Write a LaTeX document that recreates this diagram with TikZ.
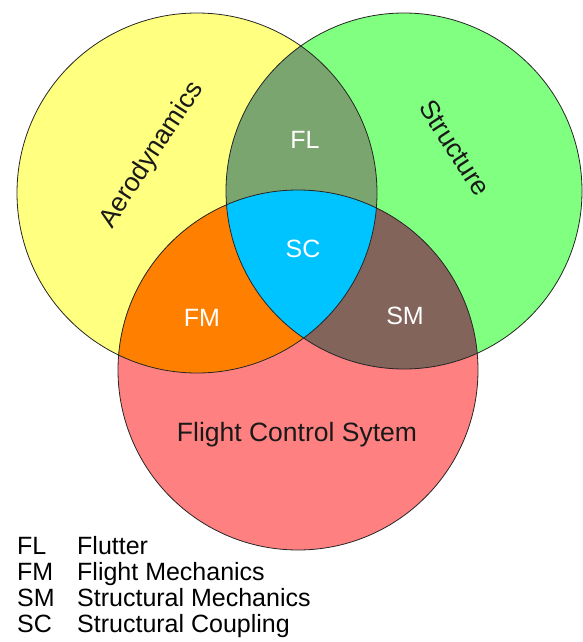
\documentclass[tikz,border=0pt]{standalone}
\usepackage{fontspec}
\setmainfont{Liberation Sans}
\definecolor{aero}{RGB}{255,255,128}
\definecolor{struc}{RGB}{128,255,128}
\definecolor{fcs}{RGB}{255,128,128}
\definecolor{flc}{RGB}{122,165,110}
\definecolor{fmc}{RGB}{255,128,0}
\definecolor{smc}{RGB}{130,100,90}
\definecolor{scc}{RGB}{0,196,255}
\tikzset{
  ring/.style={draw=black!85, line width=0.8pt},
  bigname/.style={font=\fontsize{26.5}{30}\selectfont, text=black!90, inner sep=0pt},
  region/.style={font=\fontsize{25}{28}\selectfont, text=white, inner sep=0pt},
  legend/.style={font=\fontsize{25}{27}\selectfont, inner sep=0pt, anchor=base west}
}
\begin{document}
\begin{tikzpicture}[x=1pt,y=-1pt]
\useasboundingbox (0,0) rectangle (583,642);
\def\cA{(197,193) circle [radius=180pt]}
\def\cS{(404,191) circle [radius=178pt]}
\def\cF{(298,370) circle [radius=180pt]}
\fill[aero] \cA;
\fill[struc] \cS;
\fill[fcs] \cF;
\begin{scope}
  \clip \cA;
  \fill[flc] \cS;
  \fill[fmc] \cF;
\end{scope}
\begin{scope}
  \clip \cS;
  \fill[smc] \cF;
\end{scope}
\begin{scope}
  \clip \cA;
  \clip \cS;
  \fill[scc] \cF;
\end{scope}
\draw[ring] \cA;
\draw[ring] \cS;
\draw[ring] \cF;
\node[bigname, rotate=57] (aero) at (152,155) {Aerodynamics};
\node[bigname, rotate=-57] (struct) at (455,148) {Structure};
\node[bigname] (fcs) at (297,435) {Flight Control Sytem};
\node[region] (fl) at (305,140) {FL};
\node[region] (sc) at (303,249) {SC};
\node[region] (fm) at (202,318) {FM};
\node[region] (sm) at (405,316) {SM};
\node[legend] (l1a) at (17,554) {FL};
\node[legend] (l1b) at (77,554) {Flutter};
\node[legend] (l2a) at (17,580) {FM};
\node[legend] (l2b) at (77,580) {Flight Mechanics};
\node[legend] (l3a) at (17,606) {SM};
\node[legend] (l3b) at (77,606) {Structural Mechanics};
\node[legend] (l4a) at (17,632) {SC};
\node[legend] (l4b) at (77,632) {Structural Coupling};
\end{tikzpicture}
\end{document}
